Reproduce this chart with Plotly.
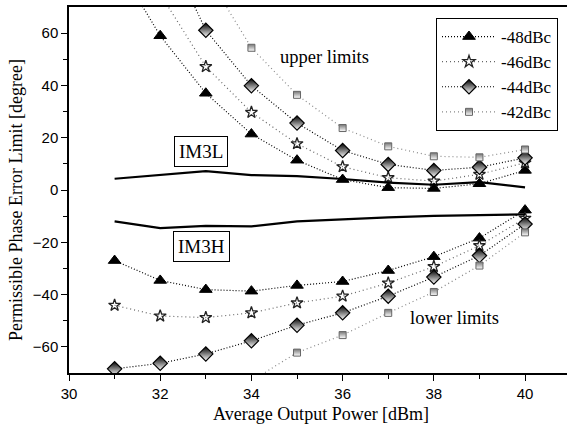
import plotly.graph_objects as go

power = [31, 32, 33, 34, 35, 36, 37, 38, 39, 40]

upper_48 = [88, 59, 37, 21.4, 11.4, 4.0, 0.9, 0.6, 2.4, 7.5]
upper_46 = [None, 75, 47.2, 29.7, 17.7, 8.9, 4.7, 3.4, 6.0, 10.4]
upper_44 = [None, 98, 61.1, 39.9, 25.6, 15.1, 9.8, 7.5, 8.7, 12.3]
upper_42 = [None, None, 83, 54.4, 36.4, 23.7, 16.7, 12.9, 12.5, 15.5]

lower_48 = [-27.0, -34.6, -38.1, -38.7, -36.5, -35.0, -30.8, -25.5, -18.4, -7.7]
lower_46 = [-44.1, -48.2, -48.8, -47.0, -43.2, -40.6, -35.6, -29.3, -21.3, -10.8]
lower_44 = [-68.4, -66.3, -62.7, -57.7, -51.7, -47.0, -40.6, -33.3, -25.1, -13.0]
lower_42 = [None, None, None, -73, -62.2, -55.5, -47.0, -39.0, -28.9, -16.2]

im3l = [4.3, 5.8, 7.2, 5.7, 5.3, 4.2, 2.8, 2.0, 3.0, 1.0]
im3h = [-12.0, -14.6, -13.7, -13.9, -12.0, -11.2, -10.5, -9.9, -9.6, -9.3]

series_names = ["-48dBc", "-46dBc", "-44dBc", "-42dBc"]
uppers = [upper_48, upper_46, upper_44, upper_42]
lowers = [lower_48, lower_46, lower_44, lower_42]

styles = [
    dict(marker=dict(symbol="triangle-up", size=11, color="black",
                     line=dict(color="black", width=1)),
         lc="black", dash="1px,2px"),
    dict(marker=dict(symbol="star-open", size=9, color="#222",
                     line=dict(color="#222", width=1.3)),
         lc="#666", dash="1px,3px"),
    dict(marker=dict(symbol="diamond", size=11, color="black",
                     gradient=dict(type="vertical", color="white"),
                     line=dict(color="black", width=1.2)),
         lc="black", dash="1px,2px"),
    dict(marker=dict(symbol="square", size=7, color="#777",
                     gradient=dict(type="vertical", color="white"),
                     line=dict(color="#666", width=1)),
         lc="#888", dash="1px,3px"),
]

SERIF = "Liberation Serif"
SANS = "Liberation Sans"

fig = go.Figure()

for name, up, lo, st in zip(series_names, uppers, lowers, styles):
    for i, ys in enumerate([up, lo]):
        fig.add_trace(go.Scatter(
            x=power, y=ys, mode="lines+markers", name=name,
            legendgroup=name, showlegend=(i == 0), connectgaps=False,
            line=dict(color=st["lc"], width=1.2, dash=st["dash"]),
            marker=st["marker"],
        ))

for ys in [im3l, im3h]:
    fig.add_trace(go.Scatter(x=power, y=ys, mode="lines", showlegend=False,
                             line=dict(color="black", width=2.2)))

ann = []
for text, x, y in [("IM3L", 32.9, 14.6), ("IM3H", 32.9, -21.5)]:
    ann.append(dict(x=x, y=y, text=text, showarrow=False,
                    font=dict(family=SERIF, size=19, color="black"),
                    bordercolor="black", borderwidth=1, borderpad=4,
                    bgcolor="white"))
ann.append(dict(x=35.6, y=51, text="upper limits", showarrow=False,
                font=dict(family=SERIF, size=18.5, color="black")))
ann.append(dict(x=38.45, y=-49, text="lower limits", showarrow=False,
                font=dict(family=SERIF, size=18.5, color="black")))
ann.append(dict(xref="paper", yref="paper", x=(321 - 69) / 498, y=-(414 - 373) / 366,
                xanchor="center", yanchor="middle",
                text="Average Output Power [dBm]", showarrow=False,
                font=dict(family=SERIF, size=18, color="black")))
ann.append(dict(xref="paper", yref="paper", x=-(69 - 16) / 498, y=(373 - 200) / 366,
                xanchor="center", yanchor="middle",
                text="Permissible Phase Error Limit [degree]", showarrow=False,
                textangle=-90,
                font=dict(family=SERIF, size=18, color="black")))

fig.update_layout(
    width=567, height=435,
    margin=dict(l=69, r=0, t=7, b=62),
    plot_bgcolor="white", paper_bgcolor="white",
    annotations=ann,
    showlegend=True,
    legend=dict(x=(436 - 69) / 498, y=(373 - 18) / 366, xanchor="left", yanchor="top",
                bordercolor="black", borderwidth=1, bgcolor="white",
                font=dict(family=SERIF, size=17, color="black"),
                tracegroupgap=0, itemwidth=54),
    xaxis=dict(range=[30, 40.92], tickvals=[30, 32, 34, 36, 38, 40],
               ticks="outside", ticklen=6, tickwidth=1.2, tickcolor="black",
               minor=dict(tickvals=[31, 33, 35, 37, 39], ticks="outside", ticklen=4,
                          tickcolor="black", tickwidth=1.2),
               showline=True, linecolor="black", linewidth=1.5, mirror=True,
               showgrid=False, zeroline=False,
               tickfont=dict(family=SANS, size=15, color="black")),
    yaxis=dict(range=[-70, 70], tickvals=[-60, -40, -20, 0, 20, 40, 60],
               ticks="outside", ticklen=6, tickwidth=1.2, tickcolor="black",
               minor=dict(tickvals=[-50, -30, -10, 10, 30, 50], ticks="outside", ticklen=4,
                          tickcolor="black", tickwidth=1.2),
               showline=True, linecolor="black", linewidth=1.5,
               showgrid=False, zeroline=False,
               tickfont=dict(family=SANS, size=15, color="black")),
)

fig.write_html("out.html")
